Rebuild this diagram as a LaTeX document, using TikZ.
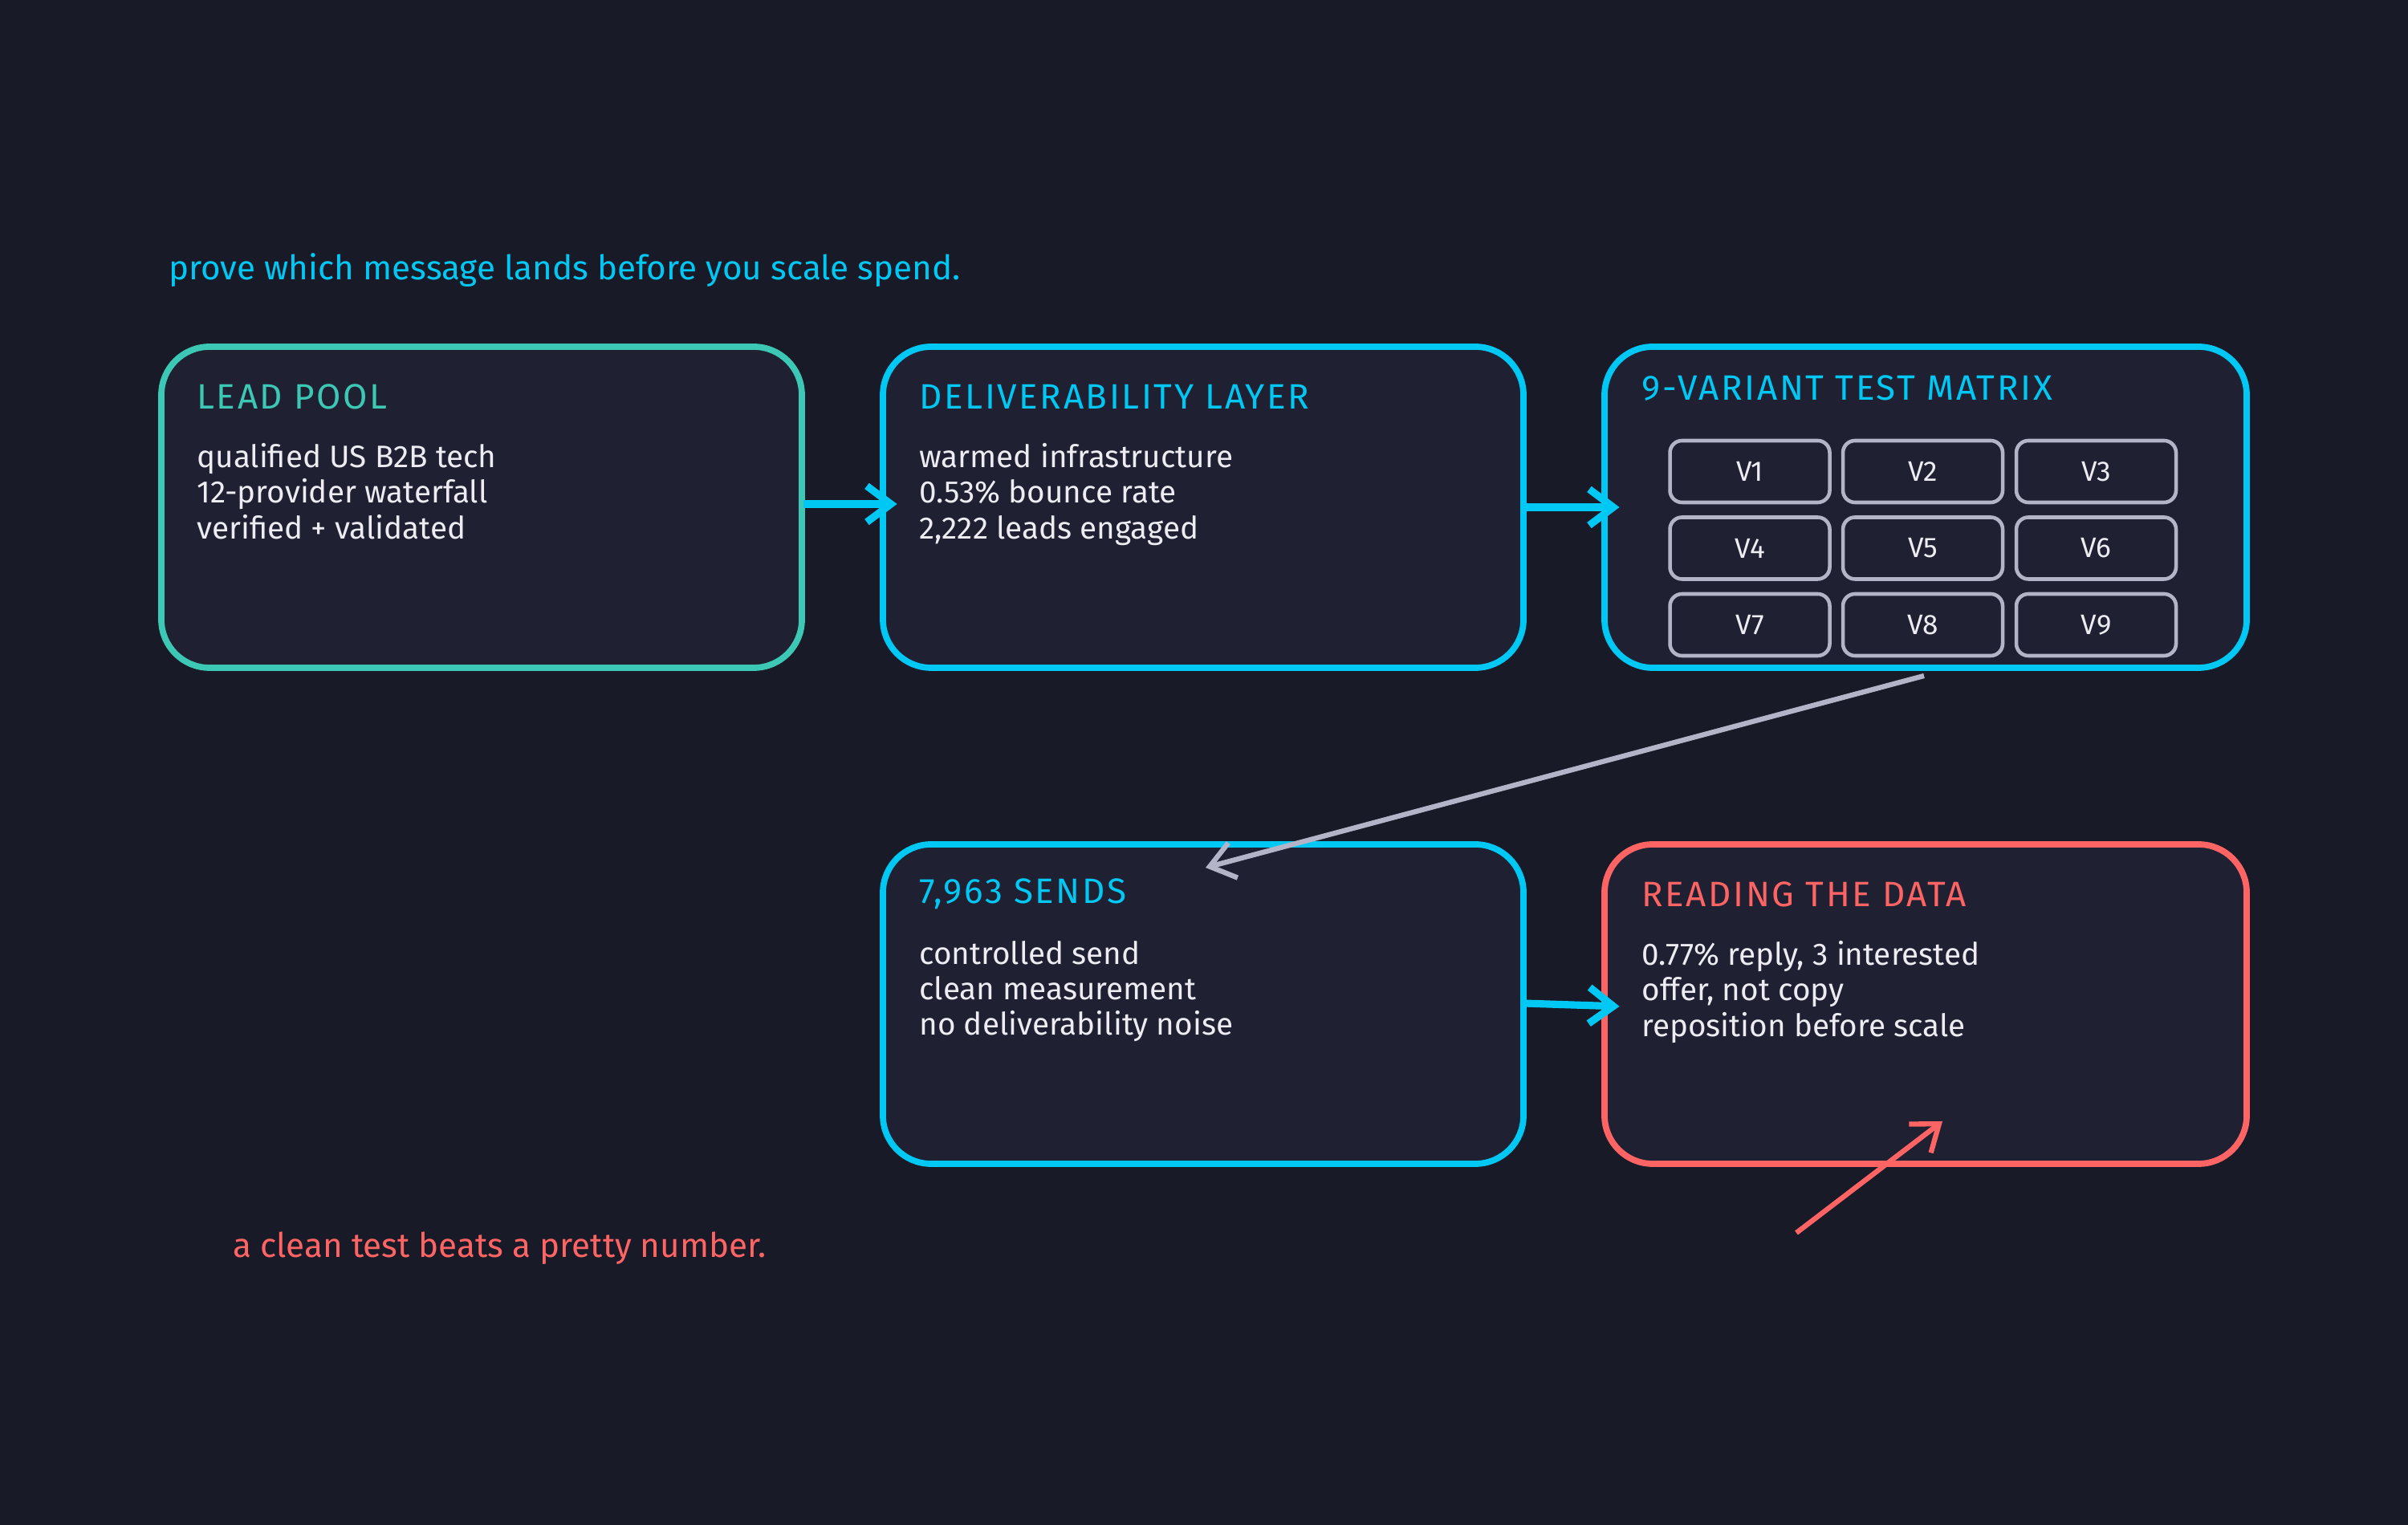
\documentclass[tikz,border=0pt]{standalone}
\usepackage{fontspec}
\setmainfont{Fira Sans}
\usetikzlibrary{arrows.meta}
\definecolor{bg}{HTML}{181A27}
\definecolor{boxfill}{HTML}{1F2133}
\definecolor{teal}{HTML}{3CC8B4}
\definecolor{cyan}{HTML}{00C8F4}
\definecolor{red}{HTML}{FF6464}
\definecolor{grayc}{HTML}{B4B4C8}
\definecolor{txt}{HTML}{ECECF2}
\tikzset{
  box/.style={draw=#1, line width=2.2pt, fill=boxfill, rounded corners=0.6cm},
  title/.style={anchor=west, text=#1, font=\fontsize{12.5}{15}\selectfont\addfontfeature{LetterSpace=6}},
  body/.style={anchor=north west, text=txt, align=left, font=\fontsize{11}{12.6}\selectfont},
  cell/.style={draw=grayc, line width=1.3pt, rounded corners=0.15cm, minimum width=1.99cm, minimum height=0.77cm, text=txt, font=\fontsize{10}{12}\selectfont},
  arr/.style={draw=cyan, line width=2.6pt, -{Straight Barb[length=0.3cm,width=0.45cm]}},
  note/.style={anchor=west, font=\fontsize{12}{14}\selectfont},
}
\begin{document}
\begin{tikzpicture}
\fill[bg] (0,0) rectangle (30,19);
\useasboundingbox (0,0) rectangle (30,19);
\node[note, text=cyan] (top) at (1.98,15.63) {prove which message lands before you scale spend.};
\node[note, text=red] (bot) at (2.78,3.45) {a clean test beats a pretty number.};
% boxes
\draw[box=teal] (2.01,10.68) rectangle (9.99,14.68);
\node[inner sep=0] (n1e) at (9.99,12.72) {};
\node[title=teal] at (2.33,14.06) {LEAD POOL};
\node[body] at (2.33,13.6) {qualified US B2B tech\\12-provider waterfall\\verified + validated};
\draw[box=cyan] (11.0,10.68) rectangle (18.98,14.68);
\node[inner sep=0] (n2w) at (11.2,12.72) {};
\node[inner sep=0] (n2e) at (18.98,12.68) {};
\node[title=cyan] at (11.33,14.06) {DELIVERABILITY LAYER};
\node[body] at (11.33,13.6) {warmed infrastructure\\0.53\% bounce rate\\2,222 leads engaged};
\draw[box=cyan] (19.99,10.68) rectangle (27.99,14.68);
\node[inner sep=0] (n3w) at (20.2,12.68) {};
\node[title=cyan] at (20.33,14.16) {9-VARIANT TEST MATRIX};
\foreach \i/\x/\y in {1/21.8/13.125,2/23.955/13.125,3/26.115/13.125,4/21.8/12.17,5/23.955/12.17,6/26.115/12.17,7/21.8/11.215,8/23.955/11.215,9/26.115/11.215}
  \node[cell] (v\i) at (\x,\y) {V\i};
\draw[box=cyan] (11.0,4.5) rectangle (18.98,8.48);
\node[inner sep=0] (n4e) at (18.98,6.5) {};
\node[title=cyan] at (11.33,7.86) {7,963 SENDS};
\node[body] at (11.33,7.4) {controlled send\\clean measurement\\no deliverability noise};
\draw[box=red] (19.99,4.5) rectangle (27.99,8.48);
\node[inner sep=0] (n5w) at (20.2,6.46) {};
\node[title=red] at (20.33,7.86) {READING THE DATA};
\node[body] at (20.33,7.4) {0.77\% reply, 3 interested\\offer, not copy\\reposition before scale};
% connectors
\draw[arr] (n1e) -- (n2w);
\draw[arr] (n2e) -- (n3w);
\draw[arr] (n4e) -- (n5w);
\coordinate (d1) at (23.97,10.58); \coordinate (d2) at (15.02,8.19);
\draw[grayc, line width=1.8pt, -{Straight Barb[length=0.3cm,width=0.45cm]}] (d1) -- (d2);
\coordinate (r1) at (22.38,3.64); \coordinate (r2) at (24.2,5.03);
\draw[red, line width=1.8pt, -{Straight Barb[length=0.3cm,width=0.45cm]}] (r1) -- (r2);
\end{tikzpicture}
\end{document}
